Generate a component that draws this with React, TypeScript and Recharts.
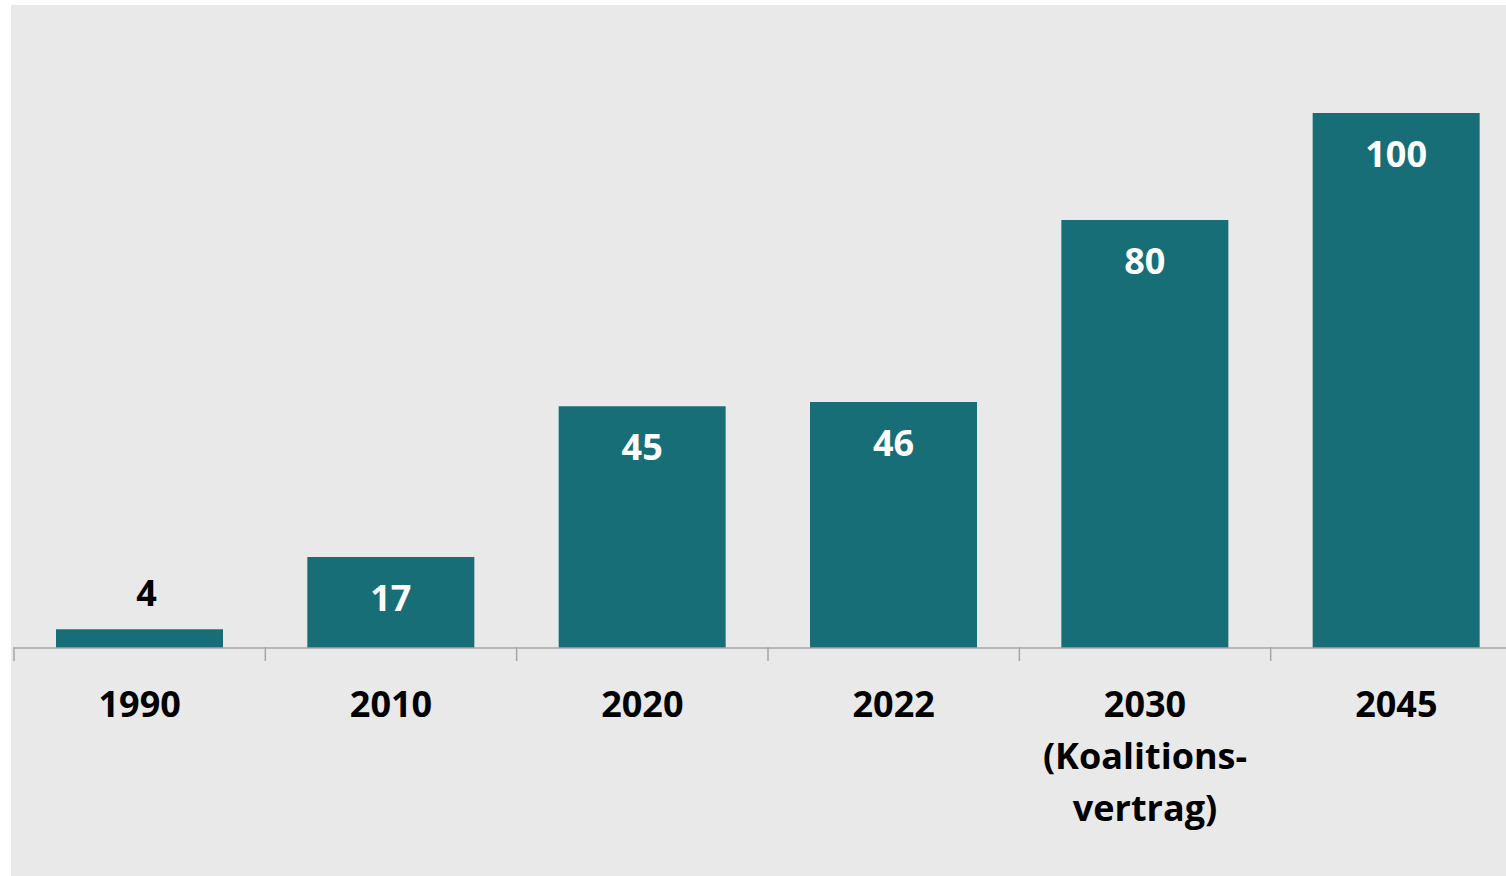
import React from 'react';
import { BarChart, Bar, XAxis, YAxis, LabelList } from 'recharts';

const categories = ['1990', '2010', '2020', '2022', '2030\n(Koalitions-\nvertrag)', '2045'];
const shares = [3.5, 17, 45.2, 46, 80, 100];

const data = categories.map((year, i) => ({ year, share: shares[i] }));

const CHART_W = 1515;
const CHART_H = 871;
const MARGIN = { top: 108, right: 4, bottom: 0, left: 3 };
const BAND = (CHART_W - MARGIN.left - MARGIN.right) / categories.length;
const FONT = '"Open Sans", "Noto Sans", sans-serif';
const TEAL = '#186e77';

// tick gets y a few px below the axis line, pull it back up
const YearTick = (props: any) => {
  const { x, y, payload } = props;
  const lines: string[] = String(payload.value).split('\n');
  const left = x - BAND / 2;
  const axisY = y - 7;
  return (
    <g>
      <line x1={left} y1={axisY} x2={left} y2={axisY + 14} stroke="#a6a6a6" strokeWidth={1.5} />
      <text x={x} y={axisY + 70} textAnchor="middle" fontFamily={FONT} fontWeight={700} fontSize={36} fill="#000">
        {lines.map((l, i) => (
          <tspan key={i} x={x} dy={i === 0 ? 0 : 52}>{l}</tspan>
        ))}
      </text>
    </g>
  );
};

const ValueLabel = (props: any) => {
  const { x, y, width, height, value } = props;
  const cx = x + width / 2;
  const outside = height < 40;
  return (
    <text
      x={outside ? cx + 7 : cx}
      y={outside ? y - 23 : y + 54}
      textAnchor="middle"
      fontFamily={FONT}
      fontWeight={700}
      fontSize={36}
      fill={outside ? '#000' : '#fff'}
    >
      {Math.round(value)}
    </text>
  );
};

export default function App() {
  return (
    <div
      style={{
        position: 'absolute',
        left: 11,
        top: 5,
        width: 1495,
        height: CHART_H,
        overflow: 'hidden',
        background: '#e9e9e9',
      }}
    >
      <BarChart width={CHART_W} height={CHART_H} data={data} margin={MARGIN} barSize={167}>
        <XAxis
          dataKey="year"
          interval={0}
          tickLine={false}
          axisLine={{ stroke: '#a6a6a6', strokeWidth: 1.5 }}
          tick={<YearTick />}
          height={CHART_H - MARGIN.top - 535}
          tickMargin={0}
        />
        <YAxis hide domain={[0, 100]} />
        <Bar dataKey="share" fill={TEAL} isAnimationActive={false}>
          <LabelList dataKey="share" content={<ValueLabel />} />
        </Bar>
      </BarChart>
    </div>
  );
}
